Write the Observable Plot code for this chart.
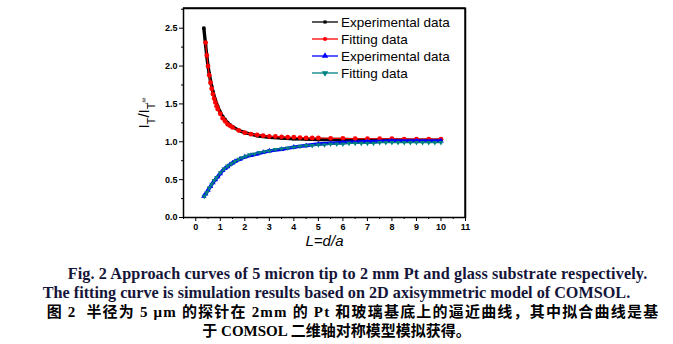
<!DOCTYPE html>
<html><head><meta charset="utf-8">
<script src="https://cdn.jsdelivr.net/npm/d3@7"></script>
<script src="https://cdn.jsdelivr.net/npm/@observablehq/plot@0.6"></script>
<style>
body{margin:0;background:#fff;width:673px;overflow:hidden}
#cap{font-family:"Liberation Serif","Times New Roman",serif;font-weight:bold;font-size:16.2px;line-height:19px;padding-top:7px}
#cap div{white-space:nowrap;text-align:center}
.en{color:#15153a}
.zh{font-family:"Liberation Serif","Noto Sans CJK SC",serif;color:#000;font-size:15px}
</style>
</head><body>
<div id="chart"></div>
<div id="cap">
<div class="en" style="padding-left:42px;letter-spacing:0.12px">Fig. 2 Approach curves of 5 micron tip to 2 mm Pt and glass substrate respectively.</div>
<div class="en">The fitting curve is simulation results based on 2D axisymmetric model of COMSOL.</div>
<div class="zh" style="padding-left:33px;letter-spacing:1.2px">图 2&nbsp; 半径为 5 μm 的探针在 2mm 的 Pt 和玻璃基底上的逼近曲线，其中拟合曲线是基</div>
<div class="zh">于 COMSOL 二维轴对称模型模拟获得。</div>
</div>
<script>
// Pt substrate, experimental (black)
const ptExpL = [0.33,0.40,0.45,0.50,0.55,0.60,0.65,0.70,0.80,0.90,1.00,1.10,1.20,1.30,1.40,1.50,1.75,2.00,2.25,2.50,2.75,3.00,3.50,4.00,4.50,5.00,5.50,6.00,7.00,8.00,9.00,10.00];
const ptExpI = [2.50,2.28,2.13,2.00,1.90,1.81,1.73,1.66,1.55,1.46,1.39,1.33,1.29,1.25,1.22,1.20,1.15,1.12,1.10,1.08,1.07,1.06,1.05,1.04,1.035,1.03,1.03,1.03,1.025,1.025,1.02,1.02];
// Pt substrate, fitting (red)
const ptFitL = [0.40,0.45,0.50,0.55,0.60,0.65,0.70,0.75,0.80,0.85,0.90,1.00,1.10,1.20,1.30,1.40,1.50,1.75,2.00,2.25,2.50,2.75,3.00,3.25,3.50,3.75,4.00,4.25,4.50,4.75,5.00,5.50,6.00,6.50,7.00,7.50,8.00,8.50,9.00,9.50,10.00];
const ptFitI = [2.31,2.14,2.00,1.88,1.78,1.70,1.63,1.57,1.52,1.47,1.43,1.37,1.31,1.27,1.23,1.21,1.19,1.15,1.12,1.10,1.09,1.08,1.07,1.07,1.065,1.06,1.06,1.055,1.05,1.05,1.05,1.045,1.045,1.04,1.04,1.04,1.04,1.035,1.035,1.035,1.035];
// glass substrate, experimental (blue)
const glExpL = [0.33,0.40,0.50,0.60,0.70,0.80,0.90,1.00,1.10,1.20,1.30,1.40,1.50,1.60,1.80,2.00,2.25,2.50,2.75,3.00,3.50,4.00,4.50,5.00,5.50,6.00,7.00,8.00,9.00,10.00];
const glExpI = [0.28,0.31,0.36,0.41,0.46,0.50,0.54,0.58,0.62,0.65,0.67,0.70,0.72,0.74,0.77,0.80,0.82,0.84,0.86,0.88,0.90,0.93,0.95,0.97,0.98,0.99,1.00,1.01,1.01,1.01];
// glass substrate, fitting (teal)
const glFitL = [0.35,0.45,0.55,0.65,0.75,0.85,1.00,1.15,1.30,1.45,1.60,1.75,1.90,2.05,2.20,2.40,2.60,2.80,3.00,3.25,3.50,3.75,4.00,4.25,4.50,4.75,5.00,5.25,5.50,5.75,6.00,6.25,6.50,6.75,7.00,7.25,7.50,7.75,8.00,8.25,8.50,8.75,9.00,9.25,9.50,9.75,10.00];
const glFitI = [0.28,0.33,0.39,0.44,0.49,0.53,0.59,0.64,0.68,0.71,0.74,0.77,0.79,0.81,0.83,0.84,0.86,0.87,0.88,0.90,0.91,0.92,0.93,0.94,0.95,0.95,0.96,0.96,0.97,0.97,0.97,0.98,0.98,0.98,0.98,0.98,0.99,0.99,0.99,0.99,0.99,0.99,0.99,0.99,0.99,0.99,0.99];

const xTicks = [0,1,2,3,4,5,6,7,8,9,10,11];
const xMinor = [-0.5,0.5,1.5,2.5,3.5,4.5,5.5,6.5,7.5,8.5,9.5,10.5];
const yTicks = [0,0.5,1.0,1.5,2.0,2.5];
const yMinor = [0.25,0.75,1.25,1.75,2.25,2.75];
const legendLabels = ["Experimental data","Fitting data","Experimental data","Fitting data"];
const seriesColors = ["#000000","#ff0000","#0000ff","#008080"];
const xLabel = "L=d/a";
const xDomain = [-0.5, 11], yDomain = [0, 2.76];

const rows = (Ls, Is) => Ls.map((L, i) => ({L, I: Is[i]}));
const ptExp = rows(ptExpL, ptExpI), ptFit = rows(ptFitL, ptFitI);
const glExp = rows(glExpL, glExpI), glFit = rows(glFitL, glFitI);

const plot = Plot.plot({
  width: 673, height: 258,
  marginLeft: 183, marginRight: 208, marginTop: 8, marginBottom: 41,
  x: {domain: xDomain},
  y: {domain: yDomain},
  style: {fontFamily: "'Liberation Sans', Arial, sans-serif", background: "#fff", overflow: "visible"},
  marks: [
    Plot.axisX(xTicks, {tickSize: 4, tickPadding: 2, fontSize: 9, fontWeight: "bold", label: null, tickFormat: d => String(d)}),
    Plot.axisX(xMinor, {tickSize: 2, tickFormat: () => "", label: null}),
    Plot.axisY(yTicks, {tickSize: 4, tickPadding: 2, fontSize: 9, fontWeight: "bold", label: null, tickFormat: d => d.toFixed(1)}),
    Plot.axisY(yMinor, {tickSize: 2, tickFormat: () => "", label: null}),
    Plot.line(ptExp, {x: "L", y: "I", stroke: seriesColors[0], strokeWidth: 3.4}),
    Plot.dot(ptExp, {x: "L", y: "I", symbol: "square", r: 1.8, fill: seriesColors[0]}),
    Plot.line(ptFit, {x: "L", y: "I", stroke: seriesColors[1], strokeWidth: 1.2}),
    Plot.dot(ptFit, {x: "L", y: "I", symbol: "circle", r: 2.4, fill: seriesColors[1]}),
    Plot.line(glExp, {x: "L", y: "I", stroke: seriesColors[2], strokeWidth: 3.4}),
    Plot.dot(glExp, {x: "L", y: "I", symbol: "triangle2", r: 2.6, fill: seriesColors[2]}),
    Plot.line(glFit, {x: "L", y: "I", stroke: seriesColors[3], strokeWidth: 1.2}),
    Plot.dot(glFit, {x: "L", y: "I", symbol: "triangle2", rotate: 180, r: 2.4, fill: seriesColors[3]}),
    Plot.frame({stroke: "#000", strokeWidth: 1.5, fill: "none"}),
    Plot.text([xLabel], {frameAnchor: "bottom", dy: 28, fontSize: 15, fontStyle: "italic", fill: "#000"})
  ]
});
document.getElementById("chart").appendChild(plot);

const svg = d3.select(plot);
// plot box outline, from the library's own scales
const sx = plot.scale("x"), sy = plot.scale("y");
const x0 = sx.apply(xDomain[0]), x1 = sx.apply(xDomain[1]);
const y0 = sy.apply(yDomain[0]), y1 = sy.apply(yDomain[1]);
svg.append("path")
  .attr("d", `M${x0},${y1}H${x1}V${y0}`)
  .attr("fill", "none").attr("stroke", "#000").attr("stroke-width", 1.4);

// y-axis label with subscripts
const yl = svg.append("text")
  .attr("transform", "translate(149,113) rotate(-90)")
  .attr("text-anchor", "middle")
  .attr("font-family", "'Liberation Sans', Arial, sans-serif")
  .attr("font-size", 15).attr("fill", "#000");
yl.append("tspan").text("I");
yl.append("tspan").attr("baseline-shift", "sub").attr("font-size", 11).text("T");
yl.append("tspan").text("/I");
yl.append("tspan").attr("baseline-shift", "sub").attr("font-size", 11).text("T");
yl.append("tspan").attr("baseline-shift", "super").attr("font-size", 7).attr("dx", -2).text(",∞");

// legend
const syms = [d3.symbolSquare, d3.symbolCircle, d3.symbolTriangle, d3.symbolTriangle];
const symSize = [10, 14, 18, 18];
const lg = svg.append("g").attr("text-anchor", "start");
legendLabels.forEach((t, i) => {
  const y = 22 + i * 17;
  lg.append("line").attr("x1", 312).attr("x2", 338).attr("y1", y).attr("y2", y)
    .attr("stroke", seriesColors[i]).attr("stroke-width", 1.3);
  lg.append("path").attr("d", d3.symbol(syms[i], symSize[i])())
    .attr("transform", `translate(325,${y})` + (i === 3 ? " rotate(180)" : ""))
    .attr("fill", seriesColors[i]);
  lg.append("text").attr("x", 341).attr("y", y).attr("dy", "0.35em")
    .attr("text-anchor", "start")
    .attr("font-family", "'Liberation Sans', Arial, sans-serif").attr("font-size", 13.5)
    .attr("fill", "#000").text(t);
});
</script>
</body></html>
